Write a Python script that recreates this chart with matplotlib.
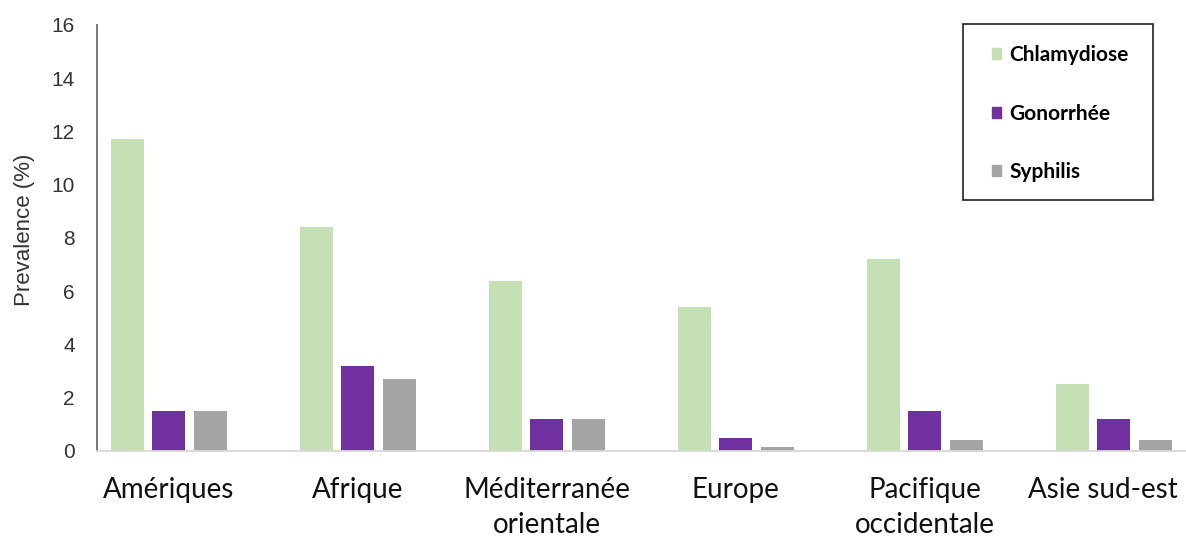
import matplotlib.pyplot as plt
import matplotlib.transforms as mtransforms
import numpy as np
from matplotlib.patches import Patch, Rectangle

regions = ['Amériques', 'Afrique', 'Méditerranée\norientale', 'Europe',
           'Pacifique\noccidentale', 'Asie sud-est']
chlamydiose = [11.7, 8.4, 6.4, 5.4, 7.2, 2.5]
gonorrhee = [1.5, 3.2, 1.2, 0.5, 1.5, 1.2]
syphilis = [1.5, 2.7, 1.2, 0.15, 0.4, 0.4]
series_names = ['Chlamydiose', 'Gonorrhée', 'Syphilis']
colors = ['#c5e0b4', '#7030a0', '#a5a5a5']

fig = plt.figure(figsize=(11.86, 5.41), dpi=100)
ax = fig.add_axes([0.0818, 0.1664, 0.918, 0.7874])

x = np.arange(len(regions))
width = 0.175
step = 0.22
for i, (vals, col) in enumerate(zip([chlamydiose, gonorrhee, syphilis], colors)):
    ax.bar(x + (i - 1) * step, vals, width, color=col)

ax.set_xlim(-0.38, 5.38)
ax.set_ylim(0, 16)
ax.set_yticks(range(0, 17, 2))
ax.set_xticks(x)
ax.set_xticklabels(regions, fontfamily=['Lato', 'DejaVu Sans'], fontsize=20,
                   color='#111111', linespacing=1.4)
for lab in ax.get_yticklabels():
    lab.set_fontfamily(['Liberation Sans', 'DejaVu Sans'])
    lab.set_fontsize(15)
    lab.set_color('#333333')
ax.tick_params(axis='y', length=0, pad=16)
ax.tick_params(axis='x', length=0, pad=19)
# last label sits against the right edge, nudge it left a bit
last = ax.get_xticklabels()[-1]
last.set_transform(last.get_transform() +
                   mtransforms.ScaledTranslation(-8 / 72, 0, fig.dpi_scale_trans))

ax.set_ylabel('Prevalence (%)', fontfamily=['Liberation Sans Narrow', 'Liberation Sans'],
              fontsize=16, color='#333333')
ax.yaxis.set_label_coords(-0.057, 0.52)

for s in ['top', 'right']:
    ax.spines[s].set_visible(False)
ax.spines['left'].set_color('#6e6e6e')
ax.spines['left'].set_linewidth(1.3)
ax.spines['bottom'].set_color('#d9d9d9')
ax.spines['bottom'].set_linewidth(1.3)

# legend box drawn separately so its size matches the reference
ax.add_patch(Rectangle((0.7952, 0.5892), 0.1745, 0.4131, transform=ax.transAxes,
                       fill=False, edgecolor='#222222', linewidth=1.2, clip_on=False))
handles = [Patch(color=c, label=n) for c, n in zip(colors, series_names)]
leg = ax.legend(handles=handles, loc='upper left', bbox_to_anchor=(0.822, 0.953),
                borderaxespad=0, borderpad=0, frameon=False,
                handlelength=0.45, handleheight=0.45, handletextpad=0.4,
                labelspacing=1.85,
                prop={'family': ['Lato', 'DejaVu Sans'], 'weight': 'bold', 'size': 15})

fig.savefig('out.png', dpi=100)
